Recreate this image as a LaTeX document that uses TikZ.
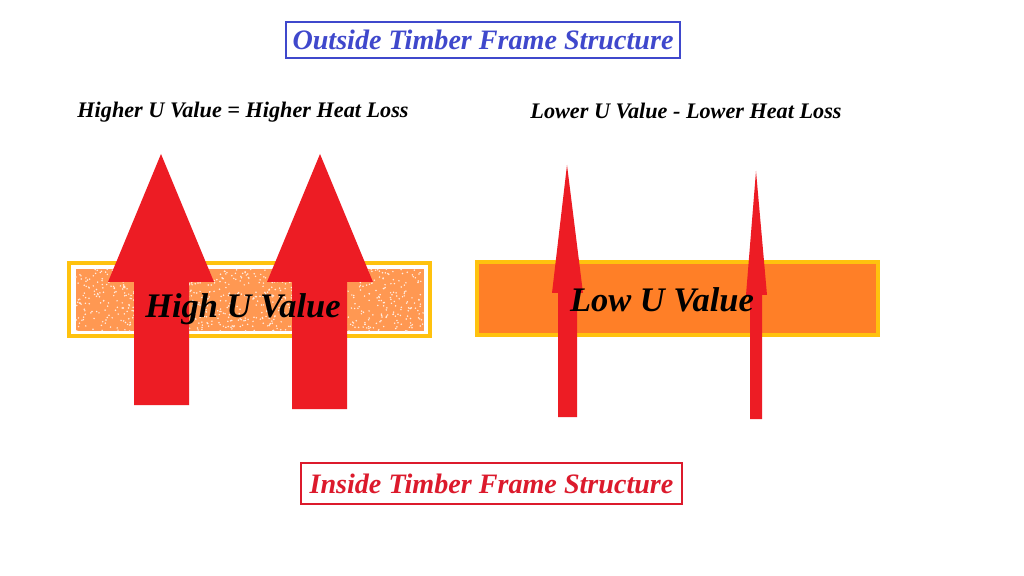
\documentclass[tikz,border=0pt]{standalone}
\usepackage{fontspec}
\setmainfont{Liberation Serif}
\usepackage{tikz}

\definecolor{paintred}{HTML}{ED1C24}
\definecolor{paintorange}{HTML}{FF7F27}
\definecolor{frameyellow}{HTML}{FFC20E}
\definecolor{titleblue}{HTML}{3F48CC}
\definecolor{titlered}{HTML}{DC1A2C}

\tikzset{
  titlebox/.style={draw,line width=1.4pt,inner sep=0pt,minimum width=9.85cm,minimum height=0.9cm,font=\bfseries\itshape\fontsize{20}{23}\selectfont},
  heading/.style={font=\bfseries\itshape\fontsize{15.8}{18}\selectfont},
  uvalue/.style={font=\bfseries\itshape\fontsize{24.5}{28}\selectfont},
  wall/.style={draw=frameyellow,line width=2.2pt},
  heat/.style={fill=paintred,draw=none}
}

\begin{document}
\begin{tikzpicture}[x=0.025cm,y=-0.025cm]
\useasboundingbox[fill=white] (0,0) rectangle (1024,576);

% frame labels
\node[titlebox,draw=titleblue,text=titleblue] (outside) at (483,40) {Outside Timber Frame Structure};
\node[titlebox,draw=titlered,text=titlered,minimum width=9.5cm,minimum height=1.02cm] (inside) at (491.5,483.5) {Inside Timber Frame Structure};

\node[heading] (higher) at (243,112) {Higher U Value = Higher Heat Loss};
\node[heading] (lower) at (686,111) {Lower U Value - Lower Heat Loss};

% left wall, speckled
\pgfmathsetseed{7}
\fill[paintorange!80] (76,269) rectangle (424,331);
\foreach \i in {1,...,900}
  \fill[white!85!paintorange] (76+348*rnd,269+62*rnd) circle (0.6pt);
\draw[wall] (69,263) rectangle (430,336);

% right wall
\draw[wall,fill=paintorange] (477,262) rectangle (878,335);

% heat through high U value wall
\fill[heat] (134,405)--(189,405)--(189,282)--(214,282)--(161,154)--(108,282)--(134,282)--cycle;
\fill[heat] (292,409)--(347,409)--(347,282)--(373,282)--(320,154)--(267,282)--(292,282)--cycle;

% heat through low U value wall
\fill[heat] (558,417)--(577,417)--(577,293)--(583,293)--(567,165)--(552,293)--(558,293)--cycle;
\fill[heat] (750,419)--(762,419)--(762,295)--(767,295)--(756,171)--(746,295)--(750,295)--cycle;

\node[uvalue] (high) at (243,309) {High U Value};
\node[uvalue] (low) at (662,300) {Low U Value};
\end{tikzpicture}
\end{document}
